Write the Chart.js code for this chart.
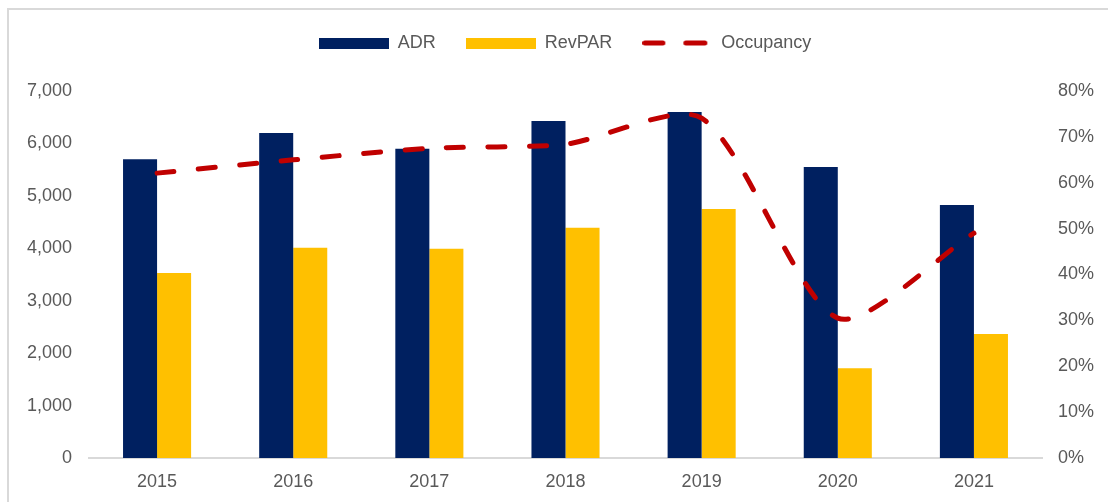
<!DOCTYPE html>
<html>
<head>
<meta charset="utf-8">
<script src="https://cdn.jsdelivr.net/npm/chart.js@4.4.1/dist/chart.umd.min.js"></script>
<style>
  html, body { margin:0; padding:0; background:#fff; overflow:hidden; }
  #frame { position:absolute; left:7px; top:8px; width:2000px; height:2000px;
           border-left:2px solid #d9d9d9; border-top:2px solid #d9d9d9; }
  #c { position:absolute; left:0; top:0; }
</style>
</head>
<body>
<div id="frame"></div>
<canvas id="c" width="1108" height="502"></canvas>
<script>
const categories = ['2015', '2016', '2017', '2018', '2019', '2020', '2021'];
const adr = [5700, 6200, 5900, 6430, 6600, 5550, 4825];
const revpar = [3530, 4010, 3990, 4390, 4750, 1710, 2365];
const occupancy = [62.1, 65.0, 67.5, 68.4, 74.1, 30.5, 49.0];
const leftTicks = [0, 1000, 2000, 3000, 4000, 5000, 6000, 7000];
const rightTicks = [0, 10, 20, 30, 40, 50, 60, 70, 80];

const NAVY = '#002060', GOLD = '#FFC000', RED = '#C00000', TXT = '#595959';
const FS = 18;

Chart.defaults.font.family = '"Liberation Sans", Arial, sans-serif';
Chart.defaults.font.size = FS;
Chart.defaults.color = TXT;

function boxImg(color) {
  const cv = document.createElement('canvas');
  cv.width = 70; cv.height = 11;
  const x = cv.getContext('2d');
  x.fillStyle = color; x.fillRect(0, 0, 70, 11);
  return cv;
}
function dashImg(color) {
  const cv = document.createElement('canvas');
  cv.width = 70; cv.height = 6;
  const x = cv.getContext('2d');
  x.strokeStyle = color; x.lineWidth = 5; x.lineCap = 'round';
  x.beginPath();
  x.moveTo(2.5, 3); x.lineTo(20.5, 3);
  x.moveTo(43.5, 3); x.lineTo(62.5, 3);
  x.stroke();
  return cv;
}
const legendImgs = [boxImg(NAVY), boxImg(GOLD), dashImg(RED)];

const legendSpacer = {
  id: 'legendSpacer',
  beforeInit(chart) {
    const lg = chart.legend;
    if (!lg) return;
    const orig = Object.getPrototypeOf(lg).fit;
    lg.fit = function () { orig.call(this); this.height += 29; };
  }
};

new Chart(document.getElementById('c'), {
  type: 'bar',
  data: {
    labels: categories,
    datasets: [
      { label: 'ADR', data: adr, backgroundColor: NAVY, yAxisID: 'y',
        categoryPercentage: 0.5, barPercentage: 1.0, order: 2 },
      { label: 'RevPAR', data: revpar, backgroundColor: GOLD, yAxisID: 'y',
        categoryPercentage: 0.5, barPercentage: 1.0, order: 2 },
      { label: 'Occupancy', type: 'line', data: occupancy, yAxisID: 'y1',
        borderColor: RED, backgroundColor: RED, borderWidth: 5,
        borderDash: [17, 24.5], borderCapStyle: 'round', borderJoinStyle: 'round',
        tension: 0.25, pointRadius: 0, fill: false, order: 1, clip: false }
    ]
  },
  options: {
    responsive: false,
    animation: false,
    layout: { padding: { left: 22, right: 0, top: 4, bottom: 0 } },
    plugins: {
      tooltip: { enabled: false },
      legend: {
        position: 'top',
        labels: {
          usePointStyle: true,
          pointStyleWidth: 70,
          boxHeight: 11,
          padding: 30,
          color: TXT,
          font: { size: FS },
          generateLabels(chart) {
            return chart.data.datasets.map((ds, i) => ({
              text: ds.label,
              pointStyle: legendImgs[i],
              fillStyle: ds.backgroundColor,
              strokeStyle: ds.borderColor || ds.backgroundColor,
              lineWidth: 0,
              hidden: false,
              fontColor: TXT,
              datasetIndex: i
            }));
          }
        }
      }
    },
    scales: {
      x: {
        grid: { display: false, drawTicks: false },
        border: { display: true, color: '#d9d9d9', width: 2 },
        ticks: { padding: 13, color: TXT, font: { size: FS } },
        afterFit(s) { s.height = 44; }
      },
      y: {
        position: 'left',
        min: 0, max: 7000,
        afterBuildTicks(s) { s.ticks = leftTicks.map(v => ({ value: v })); },
        grid: { display: false, drawTicks: false },
        border: { display: false },
        ticks: { padding: 17, color: TXT, font: { size: FS },
                 callback: v => Number(v).toLocaleString('en-US') },
        afterFit(s) { s.width = 67; }
      },
      y1: {
        position: 'right',
        min: 0, max: 80,
        afterBuildTicks(s) { s.ticks = rightTicks.map(v => ({ value: v })); },
        grid: { display: false, drawTicks: false },
        border: { display: false },
        ticks: { padding: 16, color: TXT, font: { size: FS },
                 callback: v => v + '%' },
        afterFit(s) { s.width = 66; }
      }
    }
  },
  plugins: [legendSpacer]
});
</script>
</body>
</html>
